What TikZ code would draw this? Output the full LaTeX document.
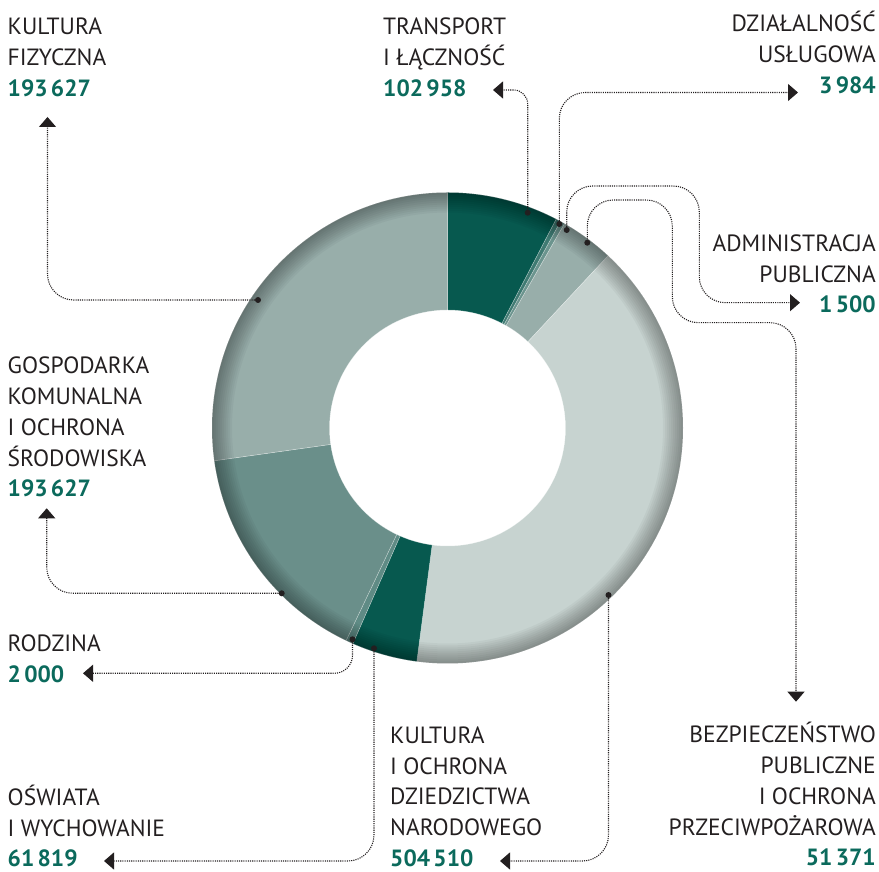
\documentclass[tikz,border=0pt]{standalone}
\usepackage{fontspec}
\setmainfont{PT Sans}
\usetikzlibrary{arrows.meta}

\definecolor{tekst}{HTML}{231F20}
\definecolor{liczba}{HTML}{0B6A5C}
\definecolor{ciemny}{HTML}{07594F}
\definecolor{usluga}{HTML}{3F7A72}
\definecolor{admin}{HTML}{6B948E}
\definecolor{jasny}{HTML}{98AEAA}
\definecolor{bardzojasny}{HTML}{C7D3D0}
\definecolor{sredni}{HTML}{6A8F8A}
\definecolor{rodzina}{HTML}{5F8B85}

\newcommand{\kwota}[1]{{\bfseries\color{liczba}#1}}
\newcommand{\odst}{\hspace{0.14em}}

\tikzset{
  opis/.style={inner sep=0pt, text=tekst, font=\fontsize{23.5}{30.75}\selectfont},
  opisL/.style={opis, align=left, anchor=south west},
  opisP/.style={opis, align=right, anchor=south east},
  kropka/.style={fill=tekst, circle, inner sep=0pt, minimum size=6pt},
  linia/.style={tekst, line width=1.1pt, dash pattern=on 1.1pt off 1.1pt, rounded corners=26pt, -{Triangle[width=17pt,length=10pt]}},
}

\begin{document}
\begin{tikzpicture}[x=1pt, y=1pt]
  \useasboundingbox (0,0) rectangle (879,872);
  \coordinate (srodek) at (447.5,444);

  % pierscien
  \foreach \pa/\pb/\kol in {90/62.5/ciemny, 62.5/61.3/usluga, 61.3/60.2/admin, 60.2/47/jasny, 47/-97.5/bardzojasny, -97.5/-113.7/ciemny, -113.7/-115.5/rodzina, -115.5/-172/sredni, -172/-270/jasny}
    \filldraw[fill=\kol, draw=white, draw opacity=0.4, line width=0.5pt]
      ([shift={(\pa:235.5pt)}]srodek) arc[start angle=\pa, end angle=\pb, radius=235.5pt]
      -- ([shift={(\pb:118pt)}]srodek) arc[start angle=\pb, end angle=\pa, radius=118pt] -- cycle;
  \foreach \k in {1,...,10}
    \draw[black, draw opacity=0.035, line width={2*\k}] (srodek) circle[radius={(235.5-\k)*1pt}];

  % opisy
  \node[opisL] (kfiz) at (7.5,775) {KULTURA\\FIZYCZNA\\\kwota{193\odst627}};
  \node[opisL] (trans) at (383,775.3) {TRANSPORT\\I ŁĄCZNOŚĆ\\\kwota{102\odst958}};
  \node[opisP] (uslug) at (876,778) {DZIAŁALNOŚĆ\\USŁUGOWA\\\kwota{3\odst984}};
  \node[opisP] (admin) at (876,558.7) {ADMINISTRACJA\\PUBLICZNA\\\kwota{1\odst500}};
  \node[opisL] (gosp) at (7.5,374.7) {GOSPODARKA\\KOMUNALNA\\I OCHRONA\\ŚRODOWISKA\\\kwota{193\odst627}};
  \node[opisL] (rodz) at (7.5,189.3) {RODZINA\\\kwota{2\odst000}};
  \node[opisL] (osw) at (7.5,4.5) {OŚWIATA\\I WYCHOWANIE\\\kwota{61\odst819}};
  \node[opisL] (kult) at (390,5) {KULTURA\\I OCHRONA\\DZIEDZICTWA\\NARODOWEGO\\\kwota{504\odst510}};
  \node[opisP] (bezp) at (876,5.5) {BEZPIECZEŃSTWO\\PUBLICZNE\\I OCHRONA\\PRZECIWPOŻAROWA\\\kwota{51\odst371}};

  % kropki
  \node[kropka] (dkfiz) at (258,572) {};
  \node[kropka] (dtrans) at (527.7,659.3) {};
  \node[kropka] (duslug) at (559.3,648) {};
  \node[kropka] (dadmin) at (566.7,642) {};
  \node[kropka] (dbezp) at (587.3,629.3) {};
  \node[kropka] (dkult) at (608.5,277) {};
  \node[kropka] (dosw) at (374,223.7) {};
  \node[kropka] (drodz) at (352.5,232.7) {};
  \node[kropka] (dgosp) at (281.7,278.7) {};

  % groty
  \coordinate (akfiz) at (47.5,755);
  \coordinate (atrans) at (493,782);
  \coordinate (auslug) at (798,779.5);
  \coordinate (aadmin) at (800,569.3);
  \coordinate (abezp) at (796,170.3);
  \coordinate (akult) at (500,11);
  \coordinate (aosw) at (104,11);
  \coordinate (arodz) at (83,198.7);
  \coordinate (agosp) at (46.7,363.7);

  % linie
  \draw[linia] (dkfiz) -| (akfiz);
  \draw[linia, rounded corners=14pt] (dtrans) |- (atrans);
  \draw[linia] (duslug) |- (auslug);
  \draw[linia] (dadmin) |- (699.3,686) |- (aadmin);
  \draw[linia] (dbezp) |- (672.3,672) |- (796,549.3) -- (abezp);
  \draw[linia] (dkult) |- (akult);
  \draw[linia] (dosw) |- (aosw);
  \draw[linia, rounded corners=18pt] (drodz) |- (arodz);
  \draw[linia] (dgosp) -| (agosp);
\end{tikzpicture}
\end{document}
